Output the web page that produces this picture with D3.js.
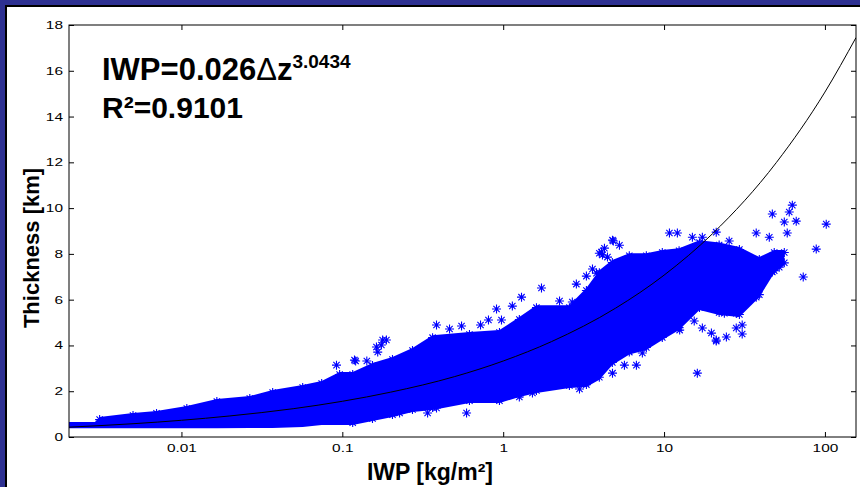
<!DOCTYPE html>
<html>
<head>
<meta charset="utf-8">
<script src="https://cdn.jsdelivr.net/npm/d3@7"></script>
<style>
  body { margin: 0; background: #2e3192; }
  svg { display: block; }
  text { font-family: "Liberation Sans", Arial, Helvetica, sans-serif; }
</style>
</head>
<body>
<svg id="svg"></svg>
<script>
// axis ticks
const xTicks = [0.01, 0.1, 1, 10, 100];
const xTickLabels = ["0.01", "0.1", "1", "10", "100"];
const yTicks = [0, 2, 4, 6, 8, 10, 12, 14, 16, 18];

// dense part of the scatter cloud: upper / lower edge
const bandIwp = [0.002, 0.0029, 0.0031, 0.005, 0.007, 0.0108, 0.0166, 0.0266, 0.0369, 0.0567,
    0.0744, 0.0962, 0.116, 0.154, 0.205, 0.273, 0.364, 0.617, 0.948, 1.26,
    1.61, 2.58, 3.29, 3.96, 4.77, 6.08, 7.76, 9.75, 12.4, 16.6,
    22.0, 29.4, 39.1, 48.4, 55.9];
const bandUpper = [0.66, 0.66, 0.87, 1.05, 1.14, 1.35, 1.66, 1.79, 2.05, 2.27,
    2.45, 2.84, 2.84, 3.23, 3.49, 3.89, 4.45, 4.59, 4.67, 5.24,
    5.76, 5.76, 6.51, 7.29, 7.73, 8.03, 8.03, 8.17, 8.25, 8.6,
    8.5, 8.3, 7.86, 8.17, 8.17];
const bandLower = [0.38, 0.38, 0.38, 0.38, 0.38, 0.38, 0.38, 0.39, 0.39, 0.44,
    0.52, 0.52, 0.52, 0.70, 0.87, 1.09, 1.18, 1.48, 1.48, 1.75,
    1.92, 2.14, 2.18, 2.5, 3.15, 3.6, 3.8, 4.24, 4.67, 5.55,
    5.33, 5.24, 6.11, 7.16, 7.5];

// single scattered points outside the dense cloud
const pointIwp = [0.092, 0.119, 0.121, 0.142, 0.163, 0.166, 0.175, 0.178, 0.188, 0.385,
    0.464, 0.551, 0.723, 0.810, 0.976, 0.909, 1.14, 1.30, 1.73, 2.24,
    2.69, 3.11, 2.85, 3.29, 3.59, 3.80, 4.08, 4.26, 4.45, 4.84,
    3.49, 3.96, 0.339, 0.385, 0.227, 0.592, 1.52, 1.26, 2.98, 4.78,
    5.28, 4.14, 10.8, 12.1, 15.0, 17.3, 21.1, 25.4, 37.4, 45.1,
    47.1, 62.7, 60.0, 55.9, 58.3, 66.3, 101.9, 88.3, 73.3, 49.8,
    52.0, 47.1, 16.1, 17.3, 19.7, 21.1, 24.4, 28.1, 30.6, 30.6,
    37.4, 37.4, 40.2, 23.7, 28.1, 15.4, 12.5, 6.73, 5.67, 4.78,
    3.96, 3.29, 7.33, 21.1];
const pointThickness = [3.14, 3.36, 3.32, 3.32, 3.93, 3.71, 4.02, 4.24, 4.24, 4.89,
    4.72, 4.85, 4.89, 5.11, 5.11, 5.59, 5.72, 6.11, 6.51, 5.94,
    5.90, 5.98, 6.68, 7.03, 7.34, 7.16, 8.08, 8.25, 7.86, 8.56,
    6.29, 8.03, 1.05, 1.27, 1.05, 1.05, 1.92, 1.75, 2.10, 8.60,
    8.38, 7.95, 8.91, 8.91, 8.73, 8.73, 8.95, 8.56, 8.91, 8.73,
    9.74, 10.13, 9.83, 9.39, 8.91, 9.43, 9.30, 8.21, 6.99, 7.86,
    7.42, 7.21, 2.79, 4.76, 4.54, 4.19, 4.37, 4.76, 4.89, 4.50,
    6.11, 6.55, 6.64, 5.41, 5.41, 5.07, 4.67, 3.14, 3.14, 2.79,
    2.84, 2.40, 3.67, 4.24];

// fitted curve
const fitIwp = [0.002, 0.005, 0.01, 0.02, 0.05, 0.1, 0.2, 0.5, 1, 2, 5, 10, 20, 50, 100, 156];
const fitThickness = [0.43, 0.58, 0.73, 0.92, 1.24, 1.56, 1.96, 2.64, 3.32, 4.17, 5.63, 7.07, 8.88, 12.0, 15.07, 17.45];

const width = 860;
const height = 487;
const margin = { top: 25, right: 4, bottom: 50, left: 69 };
const chartWidth = width - margin.left - margin.right;
const chartHeight = height - margin.top - margin.bottom;

let svg = d3.select("#svg").attr("width", width).attr("height", height);

// dark frame round the white page
svg.append("rect").attr("width", width).attr("height", height).attr("fill", "#2e3192");
svg.append("rect").attr("x", 5).attr("y", 5).attr("width", width - 5).attr("height", height - 5).attr("fill", "#000");
svg.append("rect").attr("x", 7).attr("y", 7).attr("width", width - 7).attr("height", height - 7).attr("fill", "#fff");

let xScale = d3.scaleLog().domain([0.002, 156]).range([0, chartWidth]);
let yScale = d3.scaleLinear().domain([0, 18]).range([chartHeight, 0]);

let chart = svg.append("g").attr("transform", `translate(${margin.left},${margin.top})`);

let clip = svg.append("clipPath").attr("id", "plot-clip");
clip.append("rect").attr("x", -6).attr("y", 0).attr("width", chartWidth + 6).attr("height", chartHeight);

let plot = chart.append("g").attr("clip-path", "url(#plot-clip)");

// dense cloud
let band = d3.range(bandIwp.length).map(i => ({ x: bandIwp[i], lo: bandLower[i], hi: bandUpper[i] }));
plot.append("path")
    .datum(band)
    .attr("fill", "#0000ff")
    .attr("d", d3.area()
        .x(d => xScale(d.x))
        .y0(d => yScale(d.lo))
        .y1(d => yScale(d.hi)));

// asterisk markers
const r = 4.5, dd = r * 0.7;
const star = `M${-r},0H${r}M0,${-r}V${r}M${-dd},${-dd}L${dd},${dd}M${-dd},${dd}L${dd},${-dd}`;

function drawStars(data, cls, xf, yf) {
    plot.selectAll("." + cls)
        .data(data)
        .enter()
        .append("path")
        .attr("class", cls)
        .attr("transform", d => `translate(${xf(d)},${yf(d)})`)
        .attr("d", star)
        .attr("fill", "none")
        .attr("stroke", "#0000ff")
        .attr("stroke-width", 1.1);
}

let points = pointIwp.map((x, i) => ({ x: x, y: pointThickness[i] }));
drawStars(points, "pt", d => xScale(d.x), d => yScale(d.y));

// edge markers on the dense cloud so the border looks starry
drawStars(band.filter(d => d.x > 0.003), "edge-hi", d => xScale(d.x), d => yScale(d.hi) + 2.5);
drawStars(band.filter(d => d.x > 0.1), "edge-lo", d => xScale(d.x), d => yScale(d.lo) - 2.5);

// fit line
let fit = fitIwp.map((x, i) => ({ x: x, y: fitThickness[i] }));
plot.append("path")
    .datum(fit)
    .attr("fill", "none")
    .attr("stroke", "#000")
    .attr("stroke-width", 1)
    .attr("d", d3.line().curve(d3.curveMonotoneX).x(d => xScale(d.x)).y(d => yScale(d.y)));

// axes, ticks pointing inwards on all four sides
let xAxis = chart.append("g")
    .attr("transform", `translate(0,${chartHeight})`)
    .call(d3.axisBottom(xScale).tickValues(xTicks).tickFormat((d, i) => xTickLabels[i])
        .tickSizeInner(-5).tickSizeOuter(0).tickPadding(7));
xAxis.selectAll("text").attr("transform", "scale(1.4,1)");

let yAxis = chart.append("g")
    .call(d3.axisLeft(yScale).tickValues(yTicks).tickFormat(d3.format("d"))
        .tickSizeInner(-5).tickSizeOuter(0).tickPadding(6));
yAxis.selectAll("text").attr("x", -4.3).attr("transform", "scale(1.4,1)");

chart.append("g")
    .call(d3.axisTop(xScale).tickValues(xTicks).tickFormat("").tickSizeInner(-5).tickSizeOuter(0));
chart.append("g")
    .attr("transform", `translate(${chartWidth},0)`)
    .call(d3.axisRight(yScale).tickValues(yTicks).tickFormat("").tickSizeInner(-5).tickSizeOuter(0));

chart.selectAll(".domain").remove();
chart.selectAll(".tick line").attr("stroke", "#000");
chart.selectAll(".tick text").attr("font-size", 11).attr("fill", "#000")
    .attr("font-family", "'Liberation Sans', Arial, sans-serif");

chart.append("rect")
    .attr("width", chartWidth)
    .attr("height", chartHeight)
    .attr("fill", "none")
    .attr("stroke", "#000")
    .attr("stroke-width", 1);

// axis titles
svg.append("text")
    .attr("x", 430)
    .attr("y", 480)
    .attr("text-anchor", "middle")
    .style("font-size", "23px")
    .style("font-weight", "bold")
    .text("IWP [kg/m²]");

svg.append("text")
    .attr("transform", "translate(39,248) rotate(-90)")
    .attr("text-anchor", "middle")
    .style("font-size", "22px")
    .style("font-weight", "bold")
    .text("Thickness [km]");

// fit equation
let eq = svg.append("text")
    .attr("x", 102)
    .attr("y", 80)
    .style("font-size", "31px")
    .style("font-weight", "bold");
eq.append("tspan").text("IWP=0.026");
eq.append("tspan").style("font-weight", "normal").text("Δ");
eq.append("tspan").text("z");
eq.append("tspan").attr("dy", -12).style("font-size", "19px").text("3.0434");

svg.append("text")
    .attr("x", 102)
    .attr("y", 118)
    .style("font-size", "30px")
    .style("font-weight", "bold")
    .text("R²=0.9101");
</script>
</body>
</html>
